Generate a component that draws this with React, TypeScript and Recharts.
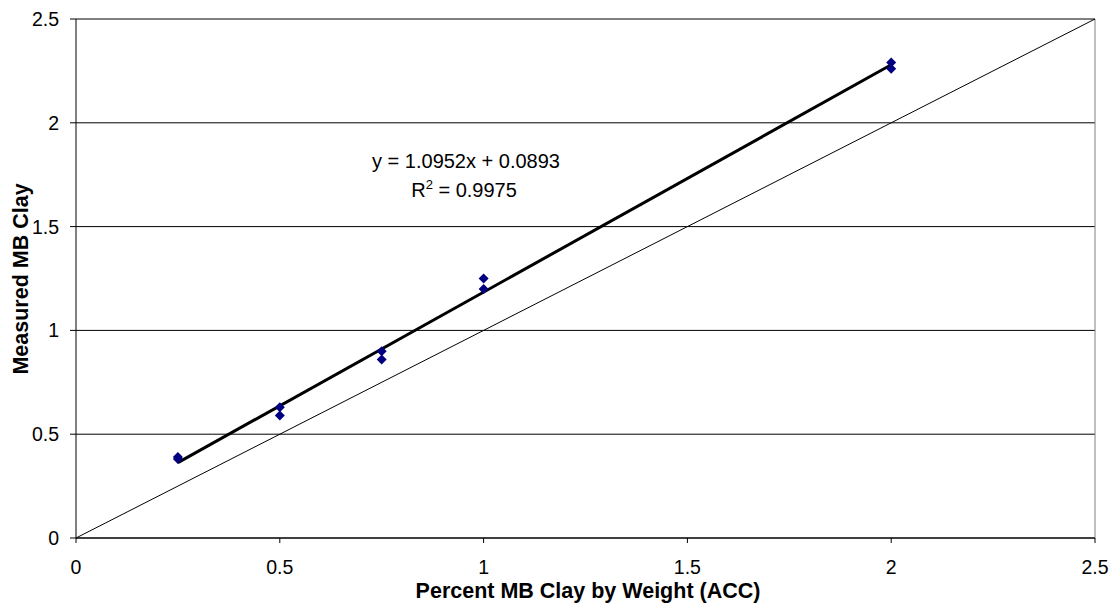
import {
  ScatterChart,
  Scatter,
  XAxis,
  YAxis,
  CartesianGrid,
  ReferenceLine,
  Customized,
} from 'recharts';

// Measured vs. expected MB clay (two replicates per level)
const xValues = [0.25, 0.25, 0.5, 0.5, 0.75, 0.75, 1, 1, 2, 2];
const yValues = [0.39, 0.38, 0.63, 0.59, 0.9, 0.86, 1.25, 1.2, 2.29, 2.26];
const axisTicks = [0, 0.5, 1, 1.5, 2, 2.5];

// Linear fit reported on the chart
const fitSlope = 1.0952;
const fitIntercept = 0.0893;
const fitR2 = 0.9975;
const fitRange = [0.25, 2];

const points = xValues.map((x, i) => ({ x, y: yValues[i] }));
const fitSegment = fitRange.map(x => ({ x, y: fitSlope * x + fitIntercept }));
const unitSegment = [
  { x: 0, y: 0 },
  { x: 2.5, y: 2.5 },
];

const FONT = '"Liberation Sans", Arial, sans-serif';

const Diamond = (props: any) => {
  const { cx, cy } = props;
  const r = 5;
  return (
    <polygon
      points={`${cx},${cy - r} ${cx + r},${cy} ${cx},${cy + r} ${cx - r},${cy}`}
      fill="#000080"
    />
  );
};

const FitLabel = () => (
  <g fontFamily={FONT} fontSize={20} fill="#000" textAnchor="middle">
    <text x={466} y={168}>
      {`y = ${fitSlope}x + ${fitIntercept}`}
    </text>
    <text x={464} y={197}>
      R<tspan dy={-8} fontSize={13}>2</tspan>
      <tspan dy={8}>{` = ${fitR2}`}</tspan>
    </text>
  </g>
);

const AxisTitles = () => (
  <g fontFamily={FONT} fontSize={21.5} fontWeight="bold" fill="#000" textAnchor="middle">
    <text x={588} y={598}>Percent MB Clay by Weight (ACC)</text>
    <text x={28} y={279} transform="rotate(-90, 28, 279)">
      Measured MB Clay
    </text>
  </g>
);

export default function App() {
  return (
    <div style={{ position: 'absolute', left: 0, top: 0, width: 1111, height: 607, background: '#fff' }}>
      <ScatterChart width={1111} height={607} margin={{ top: 19, right: 16, bottom: 0, left: 0 }}>
        <CartesianGrid vertical={false} stroke="#000" strokeWidth={1} />
        <XAxis
          type="number"
          dataKey="x"
          domain={[0, 2.5]}
          ticks={axisTicks}
          height={69}
          axisLine={{ stroke: '#000' }}
          tickLine={{ stroke: '#000' }}
          tickSize={5}
          tickMargin={17}
          tick={{ fill: '#000', fontSize: 19.5, fontFamily: FONT }}
        />
        <YAxis
          type="number"
          dataKey="y"
          domain={[0, 2.5]}
          ticks={axisTicks}
          width={76}
          axisLine={{ stroke: '#000' }}
          tickLine={{ stroke: '#000' }}
          tickSize={6}
          tickMargin={11}
          tick={{ fill: '#000', fontSize: 19.5, fontFamily: FONT }}
        />
        <ReferenceLine y={2.5} stroke="#808080" strokeWidth={1} />
        <ReferenceLine x={2.5} stroke="#808080" strokeWidth={1} />
        <ReferenceLine segment={unitSegment} stroke="#000" strokeWidth={1} />
        <ReferenceLine segment={fitSegment} stroke="#000" strokeWidth={3} />
        <Scatter data={points} shape={Diamond} isAnimationActive={false} />
        <Customized component={FitLabel} />
        <Customized component={AxisTitles} />
      </ScatterChart>
    </div>
  );
}
